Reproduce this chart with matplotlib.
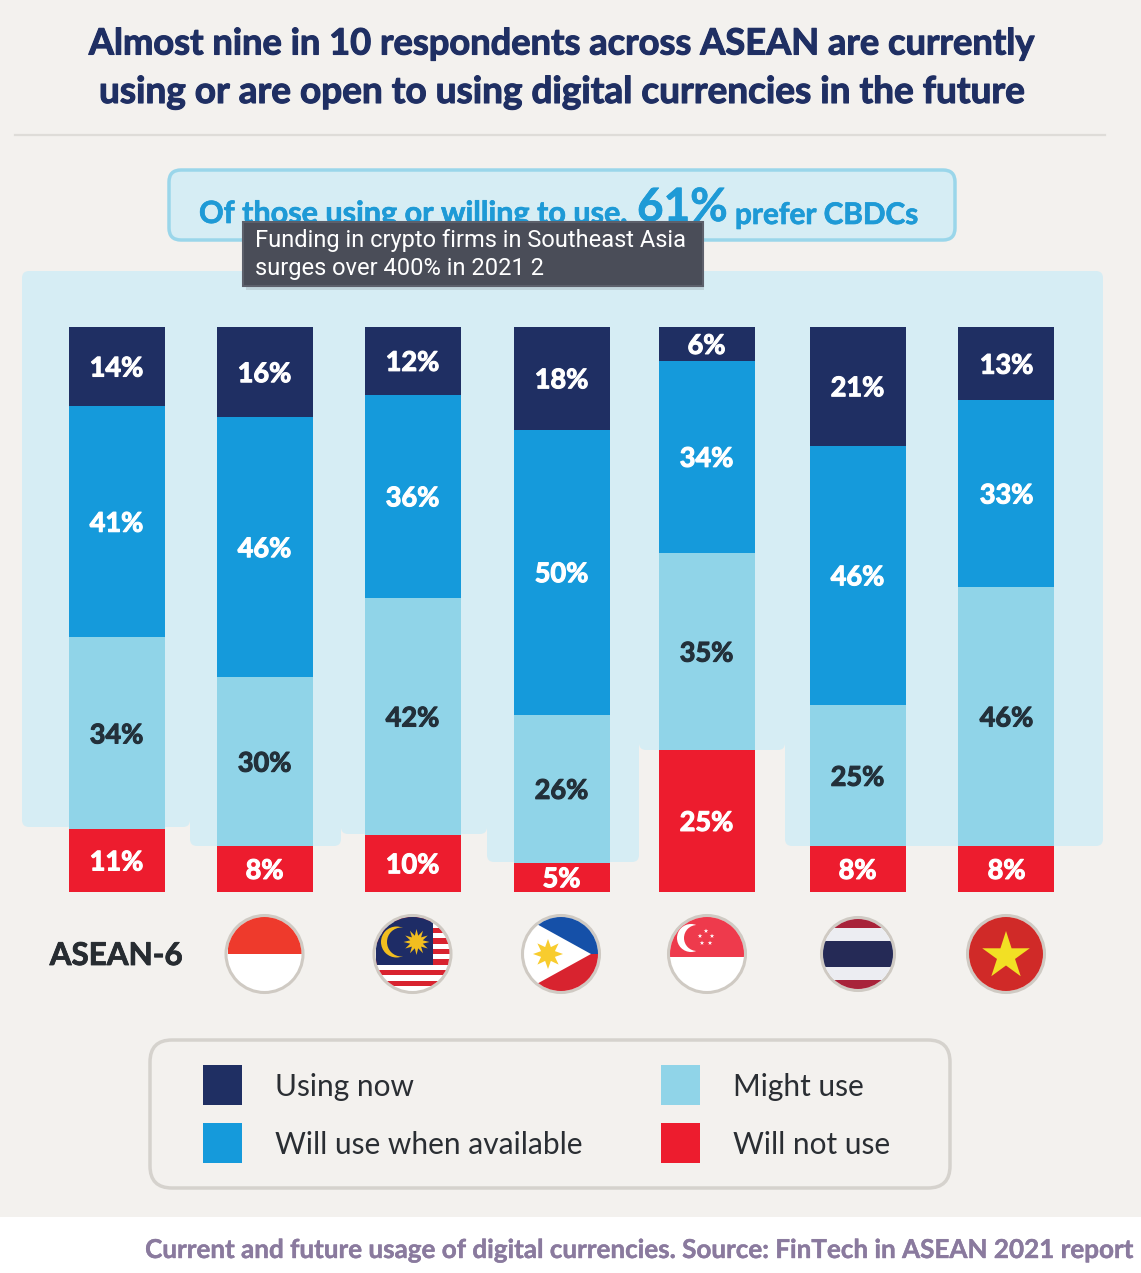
import numpy as np
import matplotlib
matplotlib.use("Agg")
import matplotlib.pyplot as plt
from matplotlib.patches import FancyBboxPatch, Rectangle, Circle, Polygon
import matplotlib.patheffects as pe

W, H = 1141, 1273
countries = ["ASEAN-6", "Indonesia", "Malaysia", "Philippines", "Singapore", "Thailand", "Vietnam"]
will_not_use = [11, 8, 10, 5, 25, 8, 8]
might_use = [34, 30, 42, 26, 35, 25, 46]
will_use = [41, 46, 36, 50, 34, 46, 33]
using_now = [14, 16, 12, 18, 6, 21, 13]
series_names = ["Will not use", "Might use", "Will use when available", "Using now"]
series_values = [will_not_use, might_use, will_use, using_now]
series_colors = ["#ED1C2E", "#90D4E8", "#159ADB", "#1F2F63"]
label_colors = ["white", "#23303A", "white", "white"]

BG = "#F3F1EE"
PANEL = "#D6EDF4"
NAVY = "#1F2F63"
TXT = "#2A2E33"

fig = plt.figure(figsize=(W / 100, H / 100), dpi=100, facecolor=BG)
bg = fig.add_axes([0, 0, 1, 1], zorder=0)
bg.set_xlim(0, W); bg.set_ylim(H, 0); bg.axis("off")
fg = fig.add_axes([0, 0, 1, 1], zorder=5)
fg.set_xlim(0, W); fg.set_ylim(H, 0); fg.axis("off"); fg.patch.set_alpha(0)

def rrect(ax, x0, y0, x1, y1, r, **kw):
    p = FancyBboxPatch((x0 + r, y0 + r), x1 - x0 - 2 * r, y1 - y0 - 2 * r,
                       boxstyle=f"round,pad={r},rounding_size={r}", **kw)
    ax.add_patch(p)
    return p

bold = dict(family="Lato", fontweight="bold")
def stroke(color, w):
    return [pe.withStroke(linewidth=w, foreground=color)]

# title
bg.text(561.5, 44, "Almost nine in 10 respondents across ASEAN are currently", ha="center", va="center",
        fontsize=26.1, color=NAVY, path_effects=stroke(NAVY, 0.8), **bold)
bg.text(561.5, 92.5, "using or are open to using digital currencies in the future", ha="center", va="center",
        fontsize=26.6, color=NAVY, path_effects=stroke(NAVY, 0.8), **bold)
bg.plot([15, 1105], [134.5, 134.5], color="#DEDCD8", lw=1.6)

# callout
rrect(bg, 169, 170, 955, 240, 12, fc=PANEL, ec="#9AD6EA", lw=2.5)
c = "#1E9AD6"
bg.text(199, 214, "Of those using or willing to use,", ha="left", va="center", fontsize=22,
        color=c, path_effects=stroke(c, 0.5), **bold)
bg.text(637, 208, "61%", ha="left", va="center", fontsize=33, color=c, path_effects=stroke(c, 0.5), **bold)
bg.text(735, 215, "prefer CBDCs", ha="left", va="center", fontsize=21.4, color=c,
        path_effects=stroke(c, 0.5), **bold)

# stepped panel behind bars
edges = [22, 190, 341, 487, 639, 785, 1103]
bottoms = [827, 846, 834, 862, 750, 846]
for i, b in enumerate(bottoms):
    rrect(bg, edges[i], 271, edges[i + 1], b, 7, fc=PANEL, ec="none")
bg.add_patch(Rectangle((30, 271), 1065, 300, fc=PANEL, ec="none"))

# bars
x0px, x1px = 42, 1078
top, bottom = 327, 891.5
ax = fig.add_axes([x0px / W, 1 - bottom / H, (x1px - x0px) / W, (bottom - top) / H], zorder=3)
ax.patch.set_alpha(0)
ax.axis("off")
step = 148
ax.set_xlim((x0px - 116.5) / step, (x1px - 116.5) / step)
ax.set_ylim(0, 100)
# slight uneven spacing of the columns in the source layout, in pixels
nudge = np.array([0, 0, 0, 1, -2, 1, 2]) / step
xs = np.arange(len(countries)) + nudge
vals = np.array(series_values, dtype=float)
totals = vals.sum(axis=0)
shares = vals / totals * 100
base = np.zeros(len(countries))
for k, name in enumerate(series_names):
    ax.bar(xs, shares[k], 96 / step, bottom=base, color=series_colors[k], label=name, lw=0)
    for x, b, s, v in zip(xs, base, shares[k], vals[k]):
        ax.text(x, b + s / 2 - 0.35, f"{int(v)}%", ha="center", va="center", fontsize=19.5,
                color=label_colors[k], path_effects=stroke(label_colors[k], 0.8), **bold)
    base += shares[k]

# row label
fg.text(116, 956, "ASEAN-6", ha="center", va="center", fontsize=22.6, color="#272C31",
        path_effects=stroke("#272C31", 0.6), **bold)

# flags
def flag(cx, R=37, cy=954, rim="#CFCAC3"):
    clip = Circle((cx, cy), R, transform=fg.transData)
    def clipped(p):
        fg.add_patch(p); p.set_clip_path(clip); return p
    fg.add_patch(Circle((cx, cy), R + 1.5, fc="white", ec=rim, lw=2.2, zorder=1))
    return clipped

def star(cx, cy, r, color, clipped, inner=0.38, n=5):
    a = np.pi / 2 + np.arange(2 * n) * np.pi / n
    rr = np.where(np.arange(2 * n) % 2 == 0, r, r * inner)
    clipped(Polygon(np.c_[cx + rr * np.cos(a), cy - rr * np.sin(a)], fc=color, ec="none", zorder=3.5))

R = 37
# Indonesia
cx = 264.5; f = flag(cx)
f(Rectangle((cx - R, 954 - R), 2 * R, R, fc="#EE3A2C", ec="none", zorder=2))
# Malaysia
cx = 412.5; f = flag(cx)
for i in range(7):
    f(Rectangle((cx - R, 917 + i * 10.6), 2 * R, 5.3, fc="#D8232F", ec="none", zorder=2))
f(Rectangle((cx - R, 917), R + 20, 48, fc="#1E2C66", ec="none", zorder=2.5))
f(Circle((cx - 16, 942), 15.5, fc="#F2BE1F", ec="none", zorder=3))
f(Circle((cx - 11, 942), 14.5, fc="#1E2C66", ec="none", zorder=3.1))
star(cx + 4, 942, 13, "#F2BE1F", f, 0.5, n=12)
# Philippines
cx = 561; f = flag(cx)
f(Polygon([(cx - 37, 917), (cx + R, 917), (cx + R, 954), (cx + 30, 954)], fc="#1550A8", ec="none", zorder=2))
f(Polygon([(cx - 37, 991), (cx + R, 991), (cx + R, 954), (cx + 30, 954)], fc="#D8232F", ec="none", zorder=2))
f(Circle((cx - 13, 954), 7, fc="#F8CC2E", ec="none", zorder=3))
star(cx - 13, 954, 15, "#F8CC2E", f, 0.5, n=8)
# Singapore
cx = 707; f = flag(cx)
f(Rectangle((cx - R, 917), 2 * R, 40, fc="#EE3A4C", ec="none", zorder=2))
f(Circle((cx - 16, 938), 14, fc="white", ec="none", zorder=3))
f(Circle((cx - 10, 938), 13, fc="#EE3A4C", ec="none", zorder=3.1))
for dx, dy in [(0, -6), (6, -1), (-6, -1), (4, 6), (-4, 6)]:
    star(cx - 1 + dx, 937 + dy, 2.4, "white", f)
# Thailand
cx = 858; f = flag(cx, R=35)
f(Rectangle((cx - 37, 917), 74, 11, fc="#A8233A", ec="none", zorder=2))
f(Rectangle((cx - 37, 980), 74, 12, fc="#A8233A", ec="none", zorder=2))
f(Rectangle((cx - 37, 928), 74, 13, fc="#ECEDF2", ec="none", zorder=2))
f(Rectangle((cx - 37, 967), 74, 13, fc="#ECEDF2", ec="none", zorder=2))
f(Rectangle((cx - 37, 941), 74, 26, fc="#252A56", ec="none", zorder=2))
# Vietnam
cx = 1006; f = flag(cx)
f(Circle((cx, 954), R + 1, fc="#D02A28", ec="none", zorder=2))
star(cx, 956, 25, "#F2E024", f)

# legend
rrect(fg, 150, 1040, 950, 1188, 22, fc=BG, ec="#D5D2CD", lw=2.5)
legend = [("Using now", 3, 203, 275, 1085), ("Will use when available", 2, 203, 275, 1143),
          ("Might use", 1, 661, 733, 1085), ("Will not use", 0, 661, 733, 1143)]
for txt, k, xb, xt, y in legend:
    fg.add_patch(Rectangle((xb, y - 20), 39, 40, fc=series_colors[k], ec="none"))
    fg.text(xt, y + 2, txt, ha="left", va="center", fontsize=21.5, color=TXT, family="Lato")

# tooltip
fg.add_patch(Rectangle((246, 226), 458, 64, fc="#000000", alpha=0.10, ec="none"))
fg.add_patch(Rectangle((243, 222), 460, 64, fc="#4A4D58", ec="#5D606B", lw=1.5))
fg.text(255, 241, "Funding in crypto firms in Southeast Asia", ha="left", va="center",
        fontsize=17, color="white", family="Roboto")
fg.text(255, 269, "surges over 400% in 2021 2", ha="left", va="center",
        fontsize=17, color="white", family="Roboto")

# caption strip
fg.add_patch(Rectangle((0, 1217), W, H - 1217, fc="white", ec="none"))
fg.text(1134, 1250, "Current and future usage of digital currencies. Source: FinTech in ASEAN 2021 report",
        ha="right", va="center", fontsize=18.75, color="#8A7A9E", path_effects=stroke("#8A7A9E", 0.3), **bold)

fig.savefig("out.png", dpi=100, facecolor=BG)
